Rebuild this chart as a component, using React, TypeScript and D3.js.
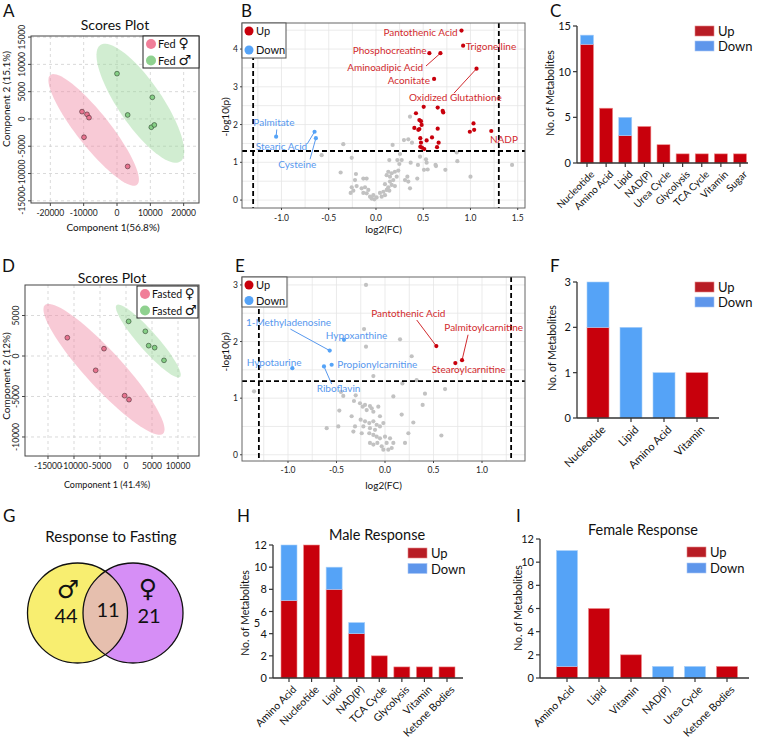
import * as d3 from "d3";

const SANS = "Lato, 'Open Sans', sans-serif";
const SYM = "'DejaVu Sans', sans-serif";

// ---------- A: scores plot, fed ----------
const fedFemale = [[-10500, 1340], [-9000, 850], [-8400, 240], [-9900, -3350], [3200, -8700]];
const fedMale = [[0, 8300], [10600, 3960], [3200, 730], [10300, -1520], [11200, -1100]];
// ellipse: centre + two conjugate semi-axes, data units
const fedFemaleEll = { cx: -7000, cy: -2010, ax: 13000, ay: -10060, bx: -3900, by: -1890 };
const fedMaleEll = { cx: 7000, cy: 2870, ax: 12000, ay: -10675, bx: -5400, by: -2260 };
const fedXTicks = [-20000, -10000, 0, 10000, 20000];
const fedYTicks = [-15000, -10000, -5000, 0, 5000, 10000, 15000];

// ---------- D: scores plot, fasted ----------
const fastFemale = [[-11280, 2260], [-4230, 905], [-5830, -1770], [-260, -4900], [580, -5390]];
const fastMale = [[510, 4280], [3720, 3050], [4360, 1280], [5510, 1030], [7310, -535]];
const fastFemaleEll = { cx: -4230, cy: -1650, ax: 11350, ay: -7940, bx: -2600, by: -1520 };
const fastMaleEll = { cx: 4290, cy: 1850, ax: 6090, ay: -4440, bx: -1350, by: -760 };
const fastXTicks = [-15000, -10000, -5000, 0, 5000, 10000];
const fastYTicks = [-10000, -5000, 0, 5000];

// ---------- B: volcano, fed ----------
const fedUpNamed = [
  { name: "Pantothenic Acid", x: 0.905, y: 4.49 },
  { name: "Trigonelline", x: 0.922, y: 4.09 },
  { name: "Phosphocreatine", x: 0.565, y: 3.89 },
  { name: "Aminoadipic Acid", x: 0.682, y: 3.89 },
  { name: "Aconitate", x: 0.615, y: 3.21 },
  { name: "Oxidized Glutathione", x: 1.064, y: 3.48 },
  { name: "NADP", x: 1.22, y: 1.83 },
];
const fedUp = [[0.505, 2.47], [0.653, 2.45], [0.706, 2.36], [0.712, 2.32], [0.423, 2.3], [0.459, 2.12], [0.476, 2.09],
  [0.483, 1.99], [0.406, 1.91], [0.448, 1.86], [0.459, 1.88], [0.653, 1.89], [0.593, 1.66], [0.536, 1.58], [0.469, 1.64],
  [0.476, 1.52], [0.663, 1.52], [0.469, 1.41], [0.487, 1.39], [0.511, 1.35], [0.646, 1.4], [1.032, 2.03], [1.039, 1.86], [0.993, 1.81]];
const fedDownNamed = [
  { name: "Palmitate", x: -1.057, y: 1.68 },
  { name: "Stearic Acid", x: -0.65, y: 1.81 },
  { name: "Cysteine", x: -0.636, y: 1.64 },
];
const fedNs = [[0.36, 2.21], [0.342, 1.61], [0.296, 1.59], [0.381, 1.52], [0.176, 1.46], [-0.346, 1.48], [-0.575, 1.19],
  [-0.257, 1.12], [0.254, 1.22], [0.141, 1.06], [0.226, 1.06], [0.272, 1.06], [0.247, 0.955], [0.367, 0.99], [0.444, 0.93],
  [0.529, 1.08], [0.536, 0.99], [0.466, 1.15], [0.508, 0.8], [0.547, 0.81], [0.635, 0.9], [0.734, 0.8], [0.854, 1.26],
  [0.861, 1.03], [-0.374, 0.73], [-0.212, 0.69], [-0.134, 0.57], [-0.099, 0.57], [-0.222, 0.53], [0.13, 0.75], [0.166, 0.71],
  [0.2, 0.75], [0.236, 0.78], [0.113, 0.66], [0.148, 0.62], [0.183, 0.53], [0.219, 0.62], [0.332, 0.62], [0.307, 0.53],
  [0.342, 0.49], [0.437, 0.57], [0.148, 0.49], [0.095, 0.42], [0.166, 0.4], [0.2, 0.37], [0.13, 0.34], [0.113, 0.27],
  [0.078, 0.22], [0.095, 0.13], [0.141, 0.25], [0.042, 0.19], [0.06, 0.09], [0.007, 0.07], [-0.028, 0.13], [-0.063, 0.09],
  [-0.046, 0.04], [-0.018, 0.02], [-0.099, 0.18], [-0.134, 0.19], [-0.152, 0.31], [-0.205, 0.37], [-0.257, 0.34],
  [-0.268, 0.19], [-0.24, 0.25], [-0.081, 0.27], [-0.116, 0.34], [0.36, 0.31], [1.0, 0.62], [0.63, 0.93], [1.44, 0.93]];
const fedLabels = {
  "Pantothenic Acid": { tx: 0.865, ty: 4.35, anchor: "end" },
  "Trigonelline": { tx: 0.95, ty: 3.98, anchor: "start" },
  "Phosphocreatine": { tx: 0.536, ty: 3.87, anchor: "end" },
  "Aminoadipic Acid": { tx: 0.5, ty: 3.42, anchor: "end", lx: 0.529, ly: 3.55 },
  "Aconitate": { tx: 0.571, ty: 3.08, anchor: "end" },
  "Oxidized Glutathione": { tx: 0.84, ty: 2.63, anchor: "middle", lx: 0.825, ly: 2.83 },
  "NADP": { tx: 1.206, ty: 1.5, anchor: "start" },
  "Palmitate": { tx: -1.298, ty: 1.96, anchor: "start", lx: -1.05, ly: 1.87 },
  "Stearic Acid": { tx: -1.273, ty: 1.33, anchor: "start", lx: -0.727, ly: 1.49 },
  "Cysteine": { tx: -1.034, ty: 0.86, anchor: "start", lx: -0.698, ly: 1.08 },
};

// ---------- E: volcano, fasted ----------
const fastUpNamed = [
  { name: "Pantothenic Acid", x: 0.529, y: 1.92 },
  { name: "Palmitoylcarnitine", x: 0.794, y: 1.67 },
  { name: "Stearoylcarnitine", x: 0.725, y: 1.62 },
];
const fastDownNamed = [
  { name: "1-Methyladenosine", x: -0.57, y: 1.84 },
  { name: "Hypoxanthine", x: -0.423, y: 2.03 },
  { name: "Propionylcarnitine", x: -0.55, y: 1.59 },
  { name: "Riboflavin", x: -0.629, y: 1.56 },
  { name: "Hypotaurine", x: -0.955, y: 1.53 },
];
const fastNs = [[-0.196, 3.0], [-0.216, 2.22], [0.155, 2.04], [-0.196, 1.91], [0.275, 1.74], [0.326, 1.32], [-0.12, 1.39],
  [0.619, 1.16], [-0.454, 1.11], [-0.43, 1.04], [-0.302, 1.05], [-0.32, 0.95], [-0.258, 0.91], [-0.23, 0.85], [-0.206, 0.88],
  [-0.155, 0.86], [-0.137, 0.82], [-0.069, 0.85], [-0.189, 0.79], [-0.12, 0.76], [-0.052, 0.68], [-0.344, 0.68],
  [-0.471, 0.78], [-0.251, 0.62], [-0.206, 0.59], [-0.162, 0.56], [-0.12, 0.59], [-0.086, 0.53], [-0.223, 0.5],
  [-0.155, 0.47], [-0.103, 0.44], [-0.052, 0.5], [-0.017, 0.56], [-0.309, 0.5], [-0.326, 0.41], [-0.24, 0.38],
  [-0.162, 0.38], [-0.12, 0.35], [-0.086, 0.32], [-0.052, 0.29], [0, 0.32], [0.052, 0.29], [0.086, 0.21], [0.017, 0.21],
  [-0.034, 0.15], [-0.017, 0.09], [0.034, 0.09], [0.069, 0.12], [-0.079, 0.21], [-0.12, 0.18], [-0.155, 0.21],
  [0.206, 0.21], [0.241, 0.38], [0.172, 0.71], [0.292, 0.57], [0.388, 0.88], [0.412, 1.08], [0.581, 0.34], [-0.601, 0.47],
  [-0.481, 0.5], [0.086, 1.03], [0.179, 1.26], [-1.35, 1.12]];
const fastLabels = {
  "Pantothenic Acid": { tx: 0.24, ty: 2.43, anchor: "middle", lx: 0.327, ly: 2.38 },
  "Palmitoylcarnitine": { tx: 0.611, ty: 2.19, anchor: "start", lx: 0.856, ly: 2.12 },
  "Stearoylcarnitine": { tx: 0.481, ty: 1.45, anchor: "start" },
  "1-Methyladenosine": { tx: -1.433, ty: 2.28, anchor: "start", lx: -0.975, ly: 2.22 },
  "Hypoxanthine": { tx: -0.611, ty: 2.05, anchor: "start" },
  "Propionylcarnitine": { tx: -0.492, ty: 1.53, anchor: "start" },
  "Riboflavin": { tx: -0.704, ty: 1.11, anchor: "start", lx: -0.55, ly: 1.25 },
  "Hypotaurine": { tx: -1.426, ty: 1.57, anchor: "start" },
};

// ---------- bar panels ----------
const cCats = ["Nucleotide", "Amino Acid", "Lipid", "NAD(P)", "Urea Cycle", "Glycolysis", "TCA Cycle", "Vitamin", "Sugar"];
const cUp = [13, 6, 3, 4, 2, 1, 1, 1, 1];
const cDown = [1, 0, 2, 0, 0, 0, 0, 0, 0];
const fCats = ["Nucleotide", "Lipid", "Amino Acid", "Vitamin"];
const fUp = [2, 0, 0, 1];
const fDown = [1, 2, 1, 0];
const hCats = ["Amino Acid", "Nucleotide", "Lipid", "NAD(P)", "TCA Cycle", "Glycolysis", "Vitamin", "Ketone Bodies"];
const hUp = [7, 12, 8, 4, 2, 1, 1, 1];
const hDown = [5, 0, 2, 1, 0, 0, 0, 0];
const iCats = ["Amino Acid", "Lipid", "Vitamin", "NAD(P)", "Urea Cycle", "Ketone Bodies"];
const iUp = [1, 6, 2, 0, 0, 1];
const iDown = [10, 0, 0, 1, 1, 0];

// ---------- G: venn ----------
const vennMaleOnly = 44;
const vennShared = 11;
const vennFemaleOnly = 21;

const RED = "#c8000c";
const BLUE = "#55a3f7";
const RED_TXT = "#d12a2e";
const BLUE_TXT = "#5798ee";

function ellipsePath(e, x, y) {
  const pts = d3.range(80).map((i) => {
    const t = (i / 80) * 2 * Math.PI;
    return [x(e.cx + e.ax * Math.cos(t) + e.bx * Math.sin(t)), y(e.cy + e.ay * Math.cos(t) + e.by * Math.sin(t))];
  });
  return d3.line()(pts) + "Z";
}

function ScoresPlot(p) {
  const { box, id } = p;
  const x = d3.scaleLinear().domain(p.xDomain).range([box.l, box.r]);
  const y = d3.scaleLinear().domain(p.yDomain).range([box.b, box.t]);
  const lg = p.legend;
  return (
    <g>
      <clipPath id={id}>
        <rect x={box.l} y={box.t} width={box.r - box.l} height={box.b - box.t} />
      </clipPath>
      <rect x={box.l} y={box.t} width={box.r - box.l} height={box.b - box.t} fill="#fff" />
      {p.xTicks.map((t) => (
        <line key={"gx" + t} x1={x(t)} x2={x(t)} y1={box.t} y2={box.b} stroke="#cfcfcf" strokeDasharray="3,3" strokeWidth={0.8} />
      ))}
      {p.yTicks.map((t) => (
        <line key={"gy" + t} x1={box.l} x2={box.r} y1={y(t)} y2={y(t)} stroke="#cfcfcf" strokeDasharray="3,3" strokeWidth={0.8} />
      ))}
      <g clipPath={`url(#${id})`}>
        <path d={ellipsePath(p.ellF, x, y)} fill="#f08aa3" fillOpacity={0.45} />
        <path d={ellipsePath(p.ellM, x, y)} fill="#9ad69a" fillOpacity={0.45} />
      </g>
      {p.female.map((d, i) => (
        <circle key={"f" + i} cx={x(d[0])} cy={y(d[1])} r={2.4} fill="#e8738f" stroke="#4a2a30" strokeWidth={0.6} />
      ))}
      {p.male.map((d, i) => (
        <circle key={"m" + i} cx={x(d[0])} cy={y(d[1])} r={2.4} fill="#86cf86" stroke="#2b432b" strokeWidth={0.6} />
      ))}
      <rect x={box.l} y={box.t} width={box.r - box.l} height={box.b - box.t} fill="none" stroke="#444" strokeWidth={1} />
      {p.xTicks.map((t) => (
        <g key={"tx" + t}>
          <line x1={x(t)} x2={x(t)} y1={box.b} y2={box.b + 3} stroke="#444" />
          <text x={x(t)} y={box.b + 13} textAnchor="middle" fontSize={8.5} fontFamily={SANS} fill="#222">{t}</text>
        </g>
      ))}
      {p.yTicks.map((t) => (
        <g key={"ty" + t}>
          <line x1={box.l - 3} x2={box.l} y1={y(t)} y2={y(t)} stroke="#444" />
          <text transform={`translate(${box.l - 6},${y(t)}) rotate(-90)`} textAnchor="middle" fontSize={8.5} fontFamily={SANS} fill="#222">{t}</text>
        </g>
      ))}
      <rect x={lg.x0} y={lg.y0} width={lg.x1 - lg.x0} height={lg.y1 - lg.y0} fill="#fff" stroke="#222" strokeWidth={1} />
      <circle cx={lg.x0 + 8} cy={lg.y0 + 8} r={5} fill="#f07e98" />
      <circle cx={lg.x0 + 8} cy={lg.y0 + 24.5} r={5} fill="#8fd18f" />
      <text x={lg.x0 + 15} y={lg.y0 + 12} fontSize={lg.fs} fontFamily={SANS} fill="#111">
        {p.group} <tspan fontFamily={SYM} fontSize={lg.fs + 3}>♀</tspan>
      </text>
      <text x={lg.x0 + 15} y={lg.y0 + 28.5} fontSize={lg.fs} fontFamily={SANS} fill="#111">
        {p.group} <tspan fontFamily={SYM} fontSize={lg.fs + 3}>♂</tspan>
      </text>
      <text x={(box.l + box.r) / 2} y={p.titleY} textAnchor="middle" fontSize={14} fontFamily={SANS} fill="#111">Scores Plot</text>
      <text x={p.xLabel.x} y={p.xLabel.y} textAnchor="middle" fontSize={p.xLabel.fs} fontFamily={SANS} fill="#111">{p.xLabel.text}</text>
      <text transform={`translate(${p.yLabel.x},${p.yLabel.y}) rotate(-90)`} textAnchor="middle" fontSize={10} fontFamily={SANS} fill="#111">{p.yLabel.text}</text>
    </g>
  );
}

function Volcano(p) {
  const { box, id } = p;
  const x = d3.scaleLinear().domain(p.xDomain).range([box.l, box.r]);
  const y = d3.scaleLinear().domain(p.yDomain).range([box.b, box.t]);
  const xGrid = d3.range(-1.25, p.xDomain[1], 0.25);
  const yGrid = d3.range(0, p.yDomain[1], 0.5);
  const named = [
    ...p.upNamed.map((d) => ({ ...d, color: RED, tc: RED_TXT })),
    ...p.downNamed.map((d) => ({ ...d, color: BLUE, tc: BLUE_TXT })),
  ];
  const lg = p.legend;
  return (
    <g>
      <clipPath id={id}>
        <rect x={box.l} y={box.t} width={box.r - box.l} height={box.b - box.t} />
      </clipPath>
      <rect x={box.l} y={box.t} width={box.r - box.l} height={box.b - box.t} fill="#fff" />
      <g clipPath={`url(#${id})`}>
        {xGrid.map((t) => (
          <line key={"gx" + t} x1={x(t)} x2={x(t)} y1={box.t} y2={box.b} stroke="#e6e6e6" strokeWidth={0.8} />
        ))}
        {yGrid.map((t) => (
          <line key={"gy" + t} x1={box.l} x2={box.r} y1={y(t)} y2={y(t)} stroke="#e6e6e6" strokeWidth={0.8} />
        ))}
        {p.ns.map((d, i) => (
          <circle key={"n" + i} cx={x(d[0])} cy={y(d[1])} r={2.1} fill="#c2c2c2" />
        ))}
        {p.up.map((d, i) => (
          <circle key={"u" + i} cx={x(d[0])} cy={y(d[1])} r={2.1} fill={RED} />
        ))}
        <line x1={box.l} x2={box.r} y1={y(1.3)} y2={y(1.3)} stroke="#000" strokeWidth={1.8} strokeDasharray="5,3" />
        <line x1={x(-1.3)} x2={x(-1.3)} y1={box.t} y2={box.b} stroke="#000" strokeWidth={1.8} strokeDasharray="5,3" />
        <line x1={x(1.3)} x2={x(1.3)} y1={box.t} y2={box.b} stroke="#000" strokeWidth={1.8} strokeDasharray="5,3" />
      </g>
      {named.map((d) => {
        const l = p.labels[d.name];
        return (
          <g key={d.name}>
            {l.lx !== undefined && (
              <line x1={x(l.lx)} y1={y(l.ly)} x2={x(d.x)} y2={y(d.y)} stroke={d.tc} strokeWidth={1} />
            )}
            <circle cx={x(d.x)} cy={y(d.y)} r={2.1} fill={d.color} />
            <text x={x(l.tx)} y={y(l.ty)} textAnchor={l.anchor} fontSize={10} fontFamily={SANS} fill={d.tc}>{d.name}</text>
          </g>
        );
      })}
      <rect x={box.l} y={box.t} width={box.r - box.l} height={box.b - box.t} fill="none" stroke="#666" strokeWidth={1} />
      {p.xTicks.map((t) => (
        <g key={"tx" + t}>
          <line x1={x(t)} x2={x(t)} y1={box.b} y2={box.b + 2} stroke="#444" />
          <text x={x(t)} y={p.xTickY} textAnchor="middle" fontSize={8.5} fontFamily={SANS} fill="#222">{t.toFixed(1)}</text>
        </g>
      ))}
      {p.yTicks.map((t) => (
        <g key={"ty" + t}>
          <line x1={box.l - 2} x2={box.l} y1={y(t)} y2={y(t)} stroke="#444" />
          <text x={box.l - 4} y={y(t) + 3} textAnchor="end" fontSize={8.5} fontFamily={SANS} fill="#222">{t}</text>
        </g>
      ))}
      <rect x={lg.x0} y={lg.y0} width={lg.x1 - lg.x0} height={lg.y1 - lg.y0} fill="#fff" stroke="#555" strokeWidth={1} />
      <circle cx={lg.x0 + 7} cy={lg.y0 + 8} r={4.5} fill={RED} />
      <circle cx={lg.x0 + 7} cy={lg.y0 + lg.step + 8} r={4.5} fill={BLUE} />
      <text x={lg.x0 + 14} y={lg.y0 + 12} fontSize={lg.fs} fontFamily={SANS} fill="#111">Up</text>
      <text x={lg.x0 + 14} y={lg.y0 + lg.step + 12} fontSize={lg.fs} fontFamily={SANS} fill="#111">Down</text>
      <text x={(box.l + box.r) / 2} y={p.xLabelY} textAnchor="middle" fontSize={10} fontFamily={SANS} fill="#111">log2(FC)</text>
      <text transform={`translate(${p.yLabel.x},${p.yLabel.y}) rotate(-90)`} textAnchor="middle" fontSize={10} fontFamily={SANS} fill="#111">-log10(p)</text>
    </g>
  );
}

function StackedBars(p) {
  const { ax } = p;
  const x = d3.scalePoint().domain(p.cats).range(p.centers);
  const y = d3.scaleLinear().domain([0, p.yMax]).range([ax.b, ax.t]);
  const lg = p.legend;
  return (
    <g>
      {p.cats.map((c, i) => (
        <g key={c}>
          {p.up[i] > 0 && (
            <rect x={x(c) - p.bw / 2} y={y(p.up[i])} width={p.bw} height={y(0) - y(p.up[i])} fill={RED} stroke="#ef8c8c" strokeWidth={0.6} />
          )}
          {p.down[i] > 0 && (
            <rect x={x(c) - p.bw / 2} y={y(p.up[i] + p.down[i])} width={p.bw} height={y(p.up[i]) - y(p.up[i] + p.down[i])} fill={BLUE} stroke="#a9cff9" strokeWidth={0.6} />
          )}
        </g>
      ))}
      <line x1={ax.l} x2={ax.r} y1={ax.b} y2={ax.b} stroke="#333" strokeWidth={1.3} />
      <line x1={ax.l} x2={ax.l} y1={ax.b} y2={y(p.yMax)} stroke="#333" strokeWidth={1.3} />
      {p.yTicks.map((t) => (
        <g key={"y" + t}>
          <line x1={ax.l - 4} x2={ax.l} y1={y(t)} y2={y(t)} stroke="#333" strokeWidth={1.2} />
          <text x={ax.l - 6} y={y(t) + 4} textAnchor="end" fontSize={11} fontFamily={SANS} fill="#111">{t}</text>
        </g>
      ))}
      {p.cats.map((c) => (
        <g key={"x" + c}>
          <line x1={x(c)} x2={x(c)} y1={ax.b} y2={ax.b + 4} stroke="#333" strokeWidth={1.2} />
          <text transform={`translate(${x(c) + 3},${ax.b + 7}) rotate(-45)`} textAnchor="end" dy="0.7em" fontSize={p.xfs} fontFamily={SANS} fill="#111">{c}</text>
        </g>
      ))}
      <rect x={lg.x} y={lg.y} width={19} height={10} fill="#b81d25" stroke="#e58888" strokeWidth={0.6} />
      <rect x={lg.x} y={lg.y + lg.step} width={19} height={10} fill="#5e96eb" stroke="#a8c6f5" strokeWidth={0.6} />
      <text x={lg.x + 23} y={lg.y + 10} fontSize={lg.fs} fontFamily={SANS} fill="#111">Up</text>
      <text x={lg.x + 23} y={lg.y + lg.step + 10} fontSize={lg.fs} fontFamily={SANS} fill="#111">Down</text>
      <text transform={`translate(${p.yLabel.x},${p.yLabel.y}) rotate(-90)`} textAnchor="middle" fontSize={10.5} fontFamily={SANS} fill="#111">No.  of  Metabolites</text>
      {p.title && (
        <text x={p.title.x} y={p.title.y} textAnchor="middle" fontSize={14.5} fontFamily={SANS} fill="#111">{p.title.text}</text>
      )}
    </g>
  );
}

function Venn() {
  const r = 50;
  const cxL = 77.5, cxR = 133, cy = 613;
  return (
    <g>
      <clipPath id="vennR">
        <circle cx={cxR} cy={cy} r={r} />
      </clipPath>
      <text x={111} y={542} textAnchor="middle" fontSize={15} fontFamily={SANS} fill="#111">Response to Fasting</text>
      <circle cx={cxL} cy={cy} r={r} fill="#f8ee70" />
      <circle cx={cxR} cy={cy} r={r} fill="#d68ef6" />
      <circle cx={cxL} cy={cy} r={r} fill="#e6bfae" clipPath="url(#vennR)" />
      <circle cx={cxL} cy={cy} r={r} fill="none" stroke="#111" strokeWidth={1.3} />
      <circle cx={cxR} cy={cy} r={r} fill="none" stroke="#111" strokeWidth={1.3} />
      <text x={68} y={598} textAnchor="middle" fontSize={25} fontWeight="bold" fontFamily={SYM} fill="#111">♂</text>
      <text x={148} y={597} textAnchor="middle" fontSize={25} fontWeight="bold" fontFamily={SYM} fill="#111">♀</text>
      <text x={66} y={623} textAnchor="middle" fontSize={20} fontFamily={SANS} fill="#111">{vennMaleOnly}</text>
      <text x={108} y={617} textAnchor="middle" fontSize={20} fontFamily={SANS} fill="#111">{vennShared}</text>
      <text x={149} y={623} textAnchor="middle" fontSize={20} fontFamily={SANS} fill="#111">{vennFemaleOnly}</text>
    </g>
  );
}

const letters = [
  ["A", 3, 17], ["B", 241, 17], ["C", 550, 17],
  ["D", 2, 272], ["E", 235, 272], ["F", 550, 272],
  ["G", 3, 522], ["H", 237, 522], ["I", 516, 522],
];

export default function App() {
  return (
    <svg width={760} height={738} style={{ position: "absolute", left: 0, top: 0, background: "#fff" }}>
      <rect width={760} height={738} fill="#fff" />
      {letters.map(([t, x, y]) => (
        <text key={t} x={x} y={y} fontSize={17} fontFamily={SANS} fill="#111">{t}</text>
      ))}
      <ScoresPlot id="clipA" box={{ l: 31, t: 36, r: 199, b: 203 }} xDomain={[-25800, 24600]} yDomain={[-15400, 15200]}
        xTicks={fedXTicks} yTicks={fedYTicks} female={fedFemale} male={fedMale} ellF={fedFemaleEll} ellM={fedMaleEll}
        group="Fed" legend={{ x0: 143, y0: 36, x1: 199, y1: 68, fs: 11 }} titleY={30}
        xLabel={{ x: 113, y: 231, text: "Component 1(56.8%)", fs: 10 }} yLabel={{ x: 10, y: 99, text: "Component 2 (15.1%)" }} />
      <ScoresPlot id="clipD" box={{ l: 25, t: 285, r: 199, b: 456 }} xDomain={[-19420, 14040]} yDomain={[-12350, 8770]}
        xTicks={fastXTicks} yTicks={fastYTicks} female={fastFemale} male={fastMale} ellF={fastFemaleEll} ellM={fastMaleEll}
        group="Fasted" legend={{ x0: 137, y0: 286, x1: 198, y1: 318, fs: 10.5 }} titleY={283}
        xLabel={{ x: 107, y: 488, text: "Component 1 (41.4%)", fs: 9 }} yLabel={{ x: 10, y: 376, text: "Component 2 (12%)" }} />
      <Volcano id="clipB" box={{ l: 242, t: 23, r: 525, b: 208 }} xDomain={[-1.418, 1.577]} yDomain={[-0.21, 4.69]}
        xTicks={[-1.0, -0.5, 0.0, 0.5, 1.0, 1.5]} yTicks={[0, 1, 2, 3, 4]} ns={fedNs} up={fedUp}
        upNamed={fedUpNamed} downNamed={fedDownNamed} labels={fedLabels}
        legend={{ x0: 242, y0: 23, x1: 286, y1: 58, step: 19, fs: 11 }} xTickY={221} xLabelY={233} yLabel={{ x: 229, y: 117 }} />
      <Volcano id="clipE" box={{ l: 242, t: 277, r: 525, b: 461 }} xDomain={[-1.474, 1.443]} yDomain={[-0.11, 3.14]}
        xTicks={[-1.0, -0.5, 0.0, 0.5, 1.0]} yTicks={[0, 1, 2, 3]} ns={fastNs} up={[]}
        upNamed={fastUpNamed} downNamed={fastDownNamed} labels={fastLabels}
        legend={{ x0: 242, y0: 277, x1: 287, y1: 307, step: 15.5, fs: 11 }} xTickY={473} xLabelY={489} yLabel={{ x: 229, y: 352 }} />
      <StackedBars cats={cCats} up={cUp} down={cDown} centers={[587, 740]} bw={13} ax={{ l: 577, r: 748, b: 163, t: 26 }}
        yMax={15} yTicks={[0, 5, 10, 15]} xfs={10} legend={{ x: 695, y: 26, step: 15, fs: 13 }} yLabel={{ x: 554, y: 93 }} />
      <StackedBars cats={fCats} up={fUp} down={fDown} centers={[598, 697]} bw={22} ax={{ l: 577, r: 719, b: 418, t: 282 }}
        yMax={3} yTicks={[0, 1, 2, 3]} xfs={11} legend={{ x: 695, y: 282, step: 15, fs: 13 }} yLabel={{ x: 556, y: 348 }} />
      <StackedBars cats={hCats} up={hUp} down={hDown} centers={[289, 447]} bw={16} ax={{ l: 273, r: 463, b: 678, t: 545 }}
        yMax={12} yTicks={[0, 2, 4, 6, 8, 10, 12]} xfs={10.5} legend={{ x: 408, y: 548, step: 15.5, fs: 13 }}
        yLabel={{ x: 249, y: 613 }} title={{ x: 377, y: 540, text: "Male Response" }} />
      <text x={257} y={627} textAnchor="middle" fontSize={11} fontFamily={SANS} fill="#111">5</text>
      <StackedBars cats={iCats} up={iUp} down={iDown} centers={[567, 727]} bw={21} ax={{ l: 540, r: 749, b: 678, t: 539 }}
        yMax={12} yTicks={[0, 2, 4, 6, 8, 10, 12]} xfs={10.5} legend={{ x: 687, y: 547, step: 16, fs: 13 }}
        yLabel={{ x: 522, y: 608 }} title={{ x: 643, y: 535, text: "Female Response" }} />
      <Venn />
    </svg>
  );
}
